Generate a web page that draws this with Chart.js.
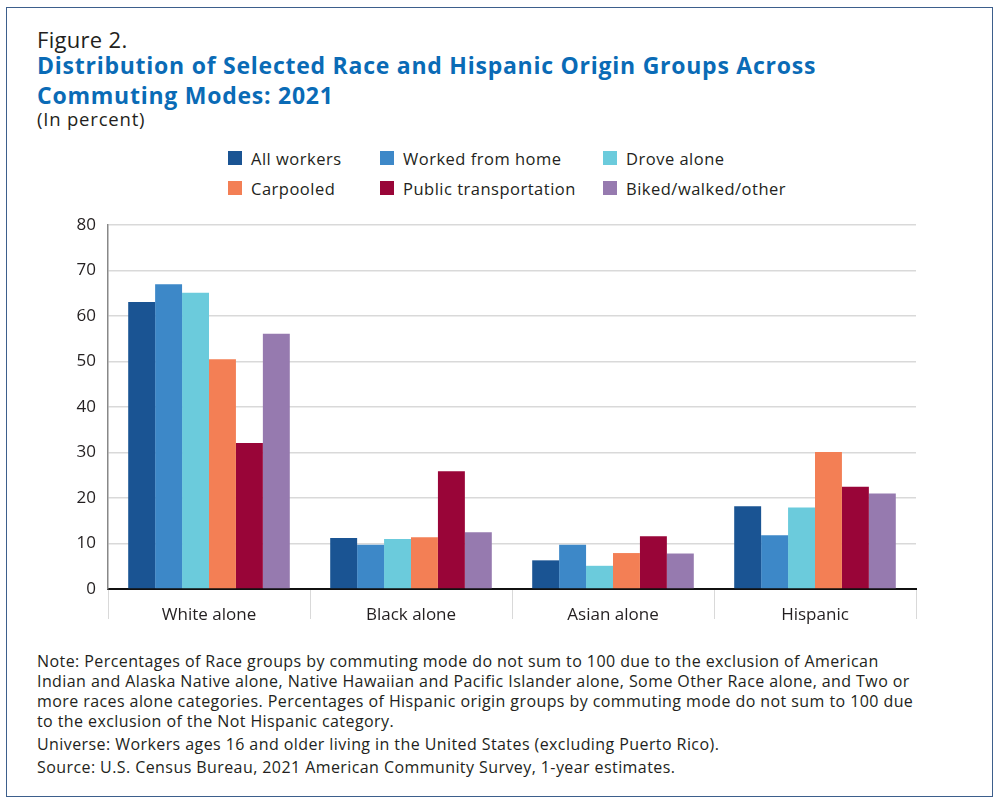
<!DOCTYPE html>
<html>
<head>
<meta charset="utf-8">
<script src="https://cdn.jsdelivr.net/npm/chart.js@4.4.0/dist/chart.umd.min.js"></script>
<style>
  body { margin: 0; background: #fff; font-family: "Open Sans", sans-serif; color: #231f20; }
  #frame { position: absolute; left: 6px; top: 7px; width: 985px; height: 788px; border: 1.5px solid #3d5f8c; }
  .txt { position: absolute; left: 37px; white-space: nowrap; }
  #fig { top: 24px; font-size: 22px; letter-spacing: 0.3px; }
  #title { top: 50px; font-size: 23px; font-weight: 700; color: #0a6bb6; line-height: 30px; letter-spacing: 0.75px; }
  #unit { top: 106px; font-size: 18.5px; letter-spacing: 0.8px; }
  #legend { position: absolute; left: 228px; top: 147px; display: grid; grid-template-columns: 152px 223px 200px; row-gap: 8px; font-size: 16.5px; letter-spacing: 0.5px; }
  #legend div { display: flex; align-items: center; height: 22px; }
  #legend span.box { width: 14px; height: 14px; margin-right: 9px; display: inline-block; }
  #notes { top: 651px; font-size: 16px; line-height: 20px; letter-spacing: 0.42px; }
  #notes p { margin: 0 0 3px 0; }
  #wrap { position: absolute; left: 0; top: 200px; width: 1000px; height: 440px; }
</style>
</head>
<body>
<div id="frame"></div>
<div class="txt" id="fig">Figure 2.</div>
<div class="txt" id="title">Distribution of Selected Race and Hispanic Origin Groups Across<br>Commuting Modes: 2021</div>
<div class="txt" id="unit">(In percent)</div>
<div id="legend"></div>
<div id="wrap"><canvas id="chart"></canvas></div>
<div class="txt" id="notes">
  <p>Note: Percentages of Race groups by commuting mode do not sum to 100 due to the exclusion of American<br>Indian and Alaska Native alone, Native Hawaiian and Pacific Islander alone, Some Other Race alone, and Two or<br>more races alone categories. Percentages of Hispanic origin groups by commuting mode do not sum to 100 due<br>to the exclusion of the Not Hispanic category.</p>
  <p>Universe: Workers ages 16 and older living in the United States (excluding Puerto Rico).</p>
  <p>Source: U.S. Census Bureau, 2021 American Community Survey, 1-year estimates.</p>
</div>
<script>
const groups = ['White alone', 'Black alone', 'Asian alone', 'Hispanic'];
const modes = ['All workers', 'Worked from home', 'Drove alone', 'Carpooled', 'Public transportation', 'Biked/walked/other'];
const modeColors = ['#1a5493', '#3d88c8', '#6bcbdc', '#f37f55', '#990538', '#967aaf'];

const allWorkers = [63.1, 11.2, 6.3, 18.2];
const workedFromHome = [67.0, 9.7, 9.7, 11.8];
const droveAlone = [65.1, 11.0, 5.1, 17.9];
const carpooled = [50.5, 11.4, 7.9, 30.1];
const publicTransit = [32.1, 25.9, 11.6, 22.5];
const bikedWalked = [56.1, 12.5, 7.8, 21.0];

const yTicks = [0, 10, 20, 30, 40, 50, 60, 70, 80];

const seriesValues = [allWorkers, workedFromHome, droveAlone, carpooled, publicTransit, bikedWalked];

const legendEl = document.getElementById('legend');
modes.forEach((m, i) => {
    const d = document.createElement('div');
    d.innerHTML = '<span class="box" style="background:' + modeColors[i] + '"></span>' + m;
    legendEl.appendChild(d);
});

const ctx = document.getElementById('chart').getContext('2d');
new Chart(ctx, {
    type: 'bar',
    data: {
        labels: groups,
        datasets: seriesValues.map((vals, i) => ({
            label: modes[i],
            data: vals,
            backgroundColor: modeColors[i],
            borderWidth: 0,
            categoryPercentage: 0.8,
            barPercentage: 1.0
        }))
    },
    options: {
        responsive: true,
        maintainAspectRatio: false,
        animation: false,
        layout: { padding: { left: 30, right: 84, top: 25, bottom: 0 } },
        plugins: {
            legend: { display: false },
            tooltip: { enabled: false }
        },
        scales: {
            x: {
                grid: { display: true, drawOnChartArea: false, offset: true, tickLength: 30, color: '#d9d9d9' },
                border: { display: true, color: '#111', width: 2 },
                ticks: { color: '#231f20', font: { family: 'Open Sans', size: 17 }, padding: -14 },
                afterFit: (scale) => { scale.height = 51; }
            },
            y: {
                min: 0,
                max: 80,
                afterBuildTicks: (scale) => { scale.ticks = yTicks.map(v => ({ value: v })); },
                grid: { color: '#d9d9d9', drawTicks: false, lineWidth: 1.5 },
                border: { display: true, color: '#888', width: 1.5 },
                ticks: { color: '#231f20', font: { family: 'Open Sans', size: 17 }, padding: 12 },
                afterFit: (scale) => { scale.width = 78; }
            }
        }
    }
});
</script>
</body>
</html>
